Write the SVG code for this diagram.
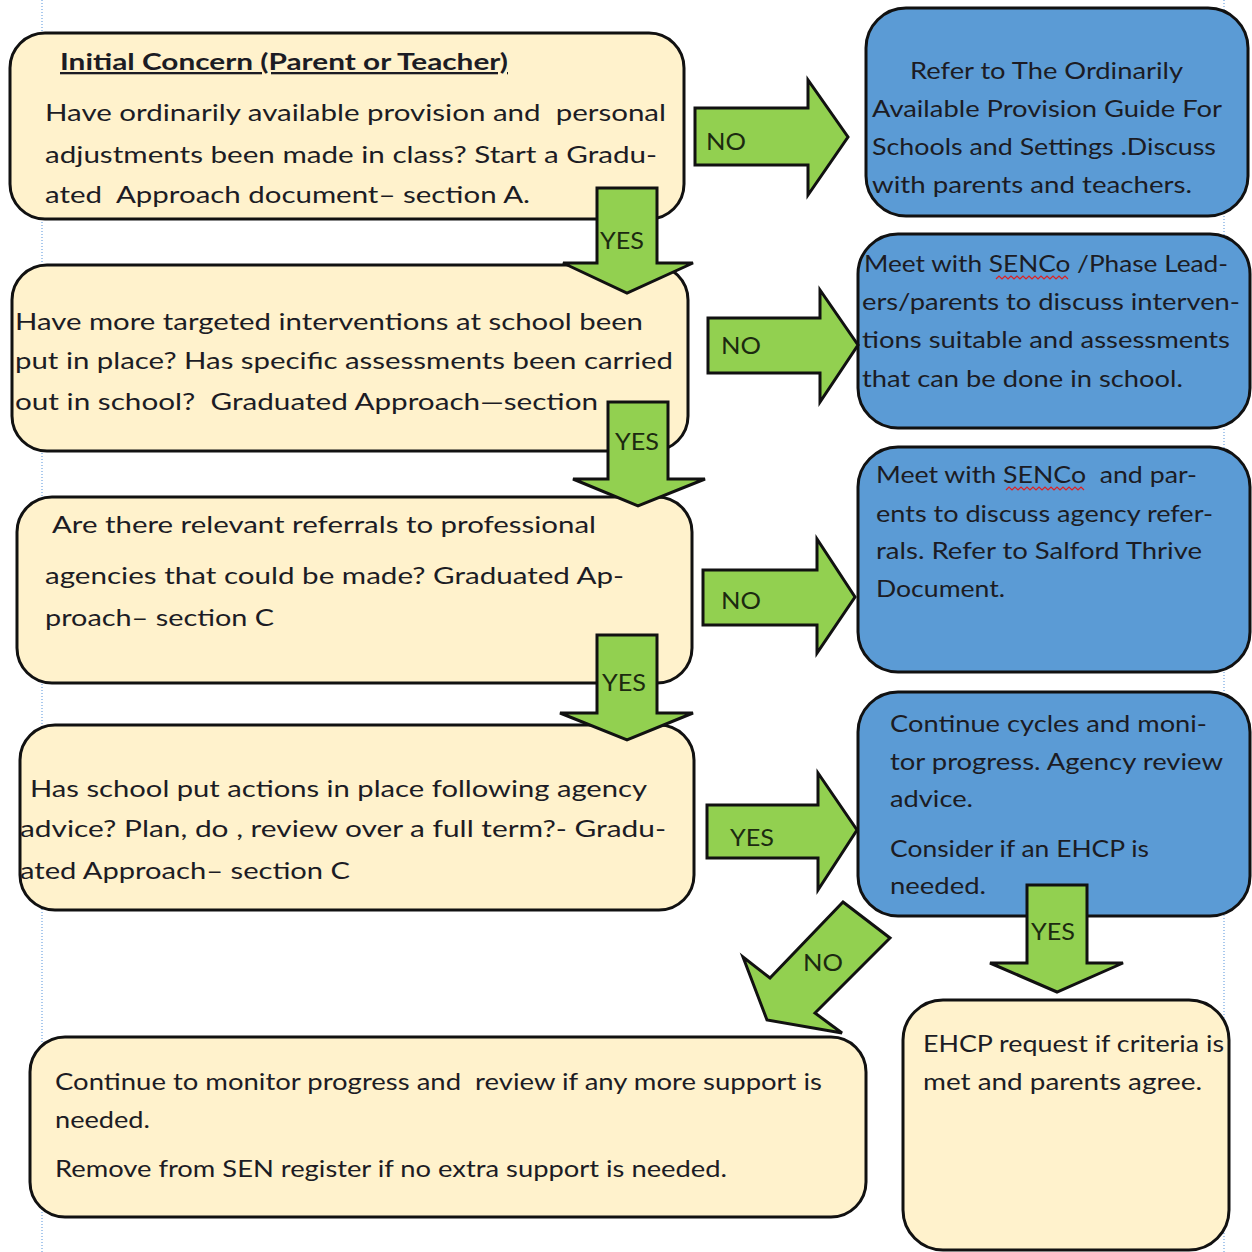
<svg xmlns="http://www.w3.org/2000/svg" width="1252" height="1252" viewBox="0 0 1252 1252">
<style>
.cream{fill:#FFF2CC;stroke:#111;stroke-width:3}
.blue{fill:#5B9BD5;stroke:#111;stroke-width:3}
.arrow{fill:#92D050;stroke:#111;stroke-width:3;stroke-linejoin:miter}
text{font-family:Lato,"Open Sans","Liberation Sans",sans-serif;font-size:23px;fill:#1c1c24;white-space:pre}
.lbl{font-size:24px;fill:#1c2a10}
.title{font-weight:bold;text-decoration:underline}
.squig{fill:none;stroke:#e02020;stroke-width:1.2}
.margin{stroke:#8FB8E8;stroke-width:1.5;stroke-dasharray:1 2}
</style>
<rect width="1252" height="1252" fill="#fff"/>
<g id="margins">
<line class="margin" x1="42" y1="0" x2="42" y2="1252"/>
<line class="margin" x1="1224" y1="0" x2="1224" y2="1252"/>
</g>
<g id="n1">
<rect class="cream" x="10" y="33" width="674" height="186" rx="35"/>
<text class="title" x="60" y="70" textLength="448" lengthAdjust="spacingAndGlyphs">Initial Concern (Parent or Teacher)</text>
<text x="45" y="121" textLength="621" lengthAdjust="spacingAndGlyphs">Have ordinarily available provision and  personal</text>
<text x="45" y="163" textLength="612" lengthAdjust="spacingAndGlyphs">adjustments been made in class? Start a Gradu-</text>
<text x="45" y="203" textLength="485" lengthAdjust="spacingAndGlyphs">ated  Approach document– section A.</text>
</g>
<g id="n2">
<rect class="cream" x="12" y="265" width="676" height="186" rx="35"/>
<text x="15" y="330" textLength="628" lengthAdjust="spacingAndGlyphs">Have more targeted interventions at school been</text>
<text x="15" y="369" textLength="658" lengthAdjust="spacingAndGlyphs">put in place? Has specific assessments been carried</text>
<text x="15" y="410" textLength="583" lengthAdjust="spacingAndGlyphs">out in school?  Graduated Approach—section</text>
</g>
<g id="n3">
<rect class="cream" x="17" y="497" width="675" height="186" rx="35"/>
<text x="52" y="533" textLength="544" lengthAdjust="spacingAndGlyphs">Are there relevant referrals to professional</text>
<text x="45" y="584" textLength="579" lengthAdjust="spacingAndGlyphs">agencies that could be made? Graduated Ap-</text>
<text x="45" y="626" textLength="229" lengthAdjust="spacingAndGlyphs">proach– section C</text>
</g>
<g id="n4">
<rect class="cream" x="20" y="725" width="674" height="185" rx="35"/>
<text x="30" y="797" textLength="617" lengthAdjust="spacingAndGlyphs">Has school put actions in place following agency</text>
<text x="20" y="837" textLength="646" lengthAdjust="spacingAndGlyphs">advice? Plan, do , review over a full term?- Gradu-</text>
<text x="20" y="879" textLength="330" lengthAdjust="spacingAndGlyphs">ated Approach– section C</text>
</g>
<g id="n5">
<rect class="cream" x="30" y="1037" width="836" height="180" rx="35"/>
<text x="55" y="1090" textLength="767" lengthAdjust="spacingAndGlyphs">Continue to monitor progress and  review if any more support is</text>
<text x="55" y="1128" textLength="95" lengthAdjust="spacingAndGlyphs">needed.</text>
<text x="55" y="1177" textLength="672" lengthAdjust="spacingAndGlyphs">Remove from SEN register if no extra support is needed.</text>
</g>
<g id="n6">
<rect class="cream" x="903" y="1000" width="326" height="250" rx="40"/>
<text x="923" y="1052" textLength="301" lengthAdjust="spacingAndGlyphs">EHCP request if criteria is</text>
<text x="923" y="1090" textLength="279" lengthAdjust="spacingAndGlyphs">met and parents agree.</text>
</g>
<g id="b1">
<rect class="blue" x="866" y="8" width="382" height="208" rx="40"/>
<text x="910" y="79" textLength="273" lengthAdjust="spacingAndGlyphs">Refer to The Ordinarily</text>
<text x="872" y="117" textLength="350" lengthAdjust="spacingAndGlyphs">Available Provision Guide For</text>
<text x="872" y="155" textLength="344" lengthAdjust="spacingAndGlyphs">Schools and Settings .Discuss</text>
<text x="872" y="193" textLength="320" lengthAdjust="spacingAndGlyphs">with parents and teachers.</text>
</g>
<g id="b2">
<rect class="blue" x="858" y="234" width="392" height="194" rx="40"/>
<text x="864" y="272" textLength="364" lengthAdjust="spacingAndGlyphs">Meet with SENCo /Phase Lead-</text>
<path class="squig" d="M996,279 l3,-3 l3,3 l3,-3 l3,3 l3,-3 l3,3 l3,-3 l3,3 l3,-3 l3,3 l3,-3 l3,3 l3,-3 l3,3 l3,-3 l3,3 l3,-3 l3,3 l3,-3 l3,3 l3,-3 l3,3 l3,-3 l3,3"/>
<text x="862" y="310" textLength="378" lengthAdjust="spacingAndGlyphs">ers/parents to discuss interven-</text>
<text x="862" y="348" textLength="368" lengthAdjust="spacingAndGlyphs">tions suitable and assessments</text>
<text x="862" y="387" textLength="321" lengthAdjust="spacingAndGlyphs">that can be done in school.</text>
</g>
<g id="b3">
<rect class="blue" x="858" y="447" width="392" height="225" rx="40"/>
<text x="876" y="483" textLength="321" lengthAdjust="spacingAndGlyphs">Meet with SENCo  and par-</text>
<path class="squig" d="M1006,490 l3,-3 l3,3 l3,-3 l3,3 l3,-3 l3,3 l3,-3 l3,3 l3,-3 l3,3 l3,-3 l3,3 l3,-3 l3,3 l3,-3 l3,3 l3,-3 l3,3 l3,-3 l3,3 l3,-3 l3,3 l3,-3 l3,3 l3,-3 l3,3"/>
<text x="876" y="522" textLength="337" lengthAdjust="spacingAndGlyphs">ents to discuss agency refer-</text>
<text x="876" y="559" textLength="326" lengthAdjust="spacingAndGlyphs">rals. Refer to Salford Thrive</text>
<text x="876" y="597" textLength="129" lengthAdjust="spacingAndGlyphs">Document.</text>
</g>
<g id="b4">
<rect class="blue" x="858" y="692" width="392" height="224" rx="40"/>
<text x="890" y="732" textLength="317" lengthAdjust="spacingAndGlyphs">Continue cycles and moni-</text>
<text x="890" y="770" textLength="333" lengthAdjust="spacingAndGlyphs">tor progress. Agency review</text>
<text x="890" y="807" textLength="83" lengthAdjust="spacingAndGlyphs">advice.</text>
<text x="890" y="857" textLength="259" lengthAdjust="spacingAndGlyphs">Consider if an EHCP is</text>
<text x="890" y="894" textLength="96" lengthAdjust="spacingAndGlyphs">needed.</text>
</g>
<g id="connectors">
<polygon class="arrow" points="695,108 808,108 808,80 848,137 808,195 808,165 695,165"/>
<text class="lbl" x="706" y="150" textLength="40" lengthAdjust="spacingAndGlyphs">NO</text>
<polygon class="arrow" points="597,188 657,188 657,263 693,263 627,293 563,263 597,263"/>
<text class="lbl" x="600" y="249" textLength="44" lengthAdjust="spacingAndGlyphs">YES</text>
<polygon class="arrow" points="708,318 820,318 820,290 858,345 820,402 820,373 708,373"/>
<text class="lbl" x="721" y="354" textLength="40" lengthAdjust="spacingAndGlyphs">NO</text>
<polygon class="arrow" points="608,402 668,402 668,479 705,479 638,506 573,479 608,479"/>
<text class="lbl" x="615" y="450" textLength="44" lengthAdjust="spacingAndGlyphs">YES</text>
<polygon class="arrow" points="703,570 817,570 817,539 855,597 817,653 817,625 703,625"/>
<text class="lbl" x="721" y="609" textLength="40" lengthAdjust="spacingAndGlyphs">NO</text>
<polygon class="arrow" points="597,635 657,635 657,713 693,713 627,740 560,713 597,713"/>
<text class="lbl" x="602" y="691" textLength="44" lengthAdjust="spacingAndGlyphs">YES</text>
<polygon class="arrow" points="707,805 818,805 818,773 857,830 818,890 818,858 707,858"/>
<text class="lbl" x="730" y="846" textLength="44" lengthAdjust="spacingAndGlyphs">YES</text>
<polygon class="arrow" points="1027,885 1087,885 1087,963 1123,963 1057,992 990,963 1027,963"/>
<text class="lbl" x="1031" y="940" textLength="44" lengthAdjust="spacingAndGlyphs">YES</text>
<polygon class="arrow" points="843,902 890,938 815,1013 842,1033 767,1020 743,957 770,978"/>
<text class="lbl" x="803" y="971" textLength="40" lengthAdjust="spacingAndGlyphs">NO</text>
</g>
</svg>
